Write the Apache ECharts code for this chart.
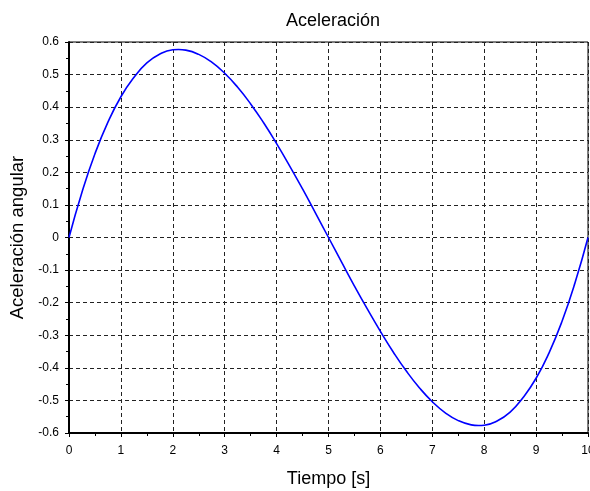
<!DOCTYPE html>
<html lang="es">
<head>
<meta charset="UTF-8">
<title>Aceleración</title>
<script src="https://cdn.jsdelivr.net/npm/echarts@6/dist/echarts.min.js"></script>
<style>
  html, body { margin: 0; padding: 0; background: #fff; }
  #main { width: 590px; height: 491px; }
</style>
</head>
<body>
<div id="main"></div>
<script>
// tiempo [s] y aceleración
const tiempo = [0, 0.25, 0.5, 0.75, 1, 1.25, 1.5, 1.75, 2, 2.11, 2.25, 2.5, 2.75, 3, 3.25, 3.5, 3.75, 4, 4.25, 4.5, 4.75, 5,
  5.25, 5.5, 5.75, 6, 6.25, 6.5, 6.75, 7, 7.25, 7.5, 7.75, 7.89, 8, 8.25, 8.5, 8.75, 9, 9.25, 9.5, 9.75, 10];
const aceleracion = [0, 0.139, 0.257, 0.354, 0.432, 0.491, 0.536, 0.563, 0.576, 0.577, 0.575, 0.562, 0.538, 0.504, 0.461, 0.41, 0.352, 0.288, 0.22, 0.149, 0.075, 0,
  -0.075, -0.149, -0.22, -0.288, -0.352, -0.41, -0.461, -0.504, -0.538, -0.562, -0.575, -0.577, -0.576, -0.563, -0.536, -0.491, -0.432, -0.354, -0.257, -0.139, 0];
const xTicks = [0, 1, 2, 3, 4, 5, 6, 7, 8, 9, 10];
const yTicks = [-0.6, -0.5, -0.4, -0.3, -0.2, -0.1, 0, 0.1, 0.2, 0.3, 0.4, 0.5, 0.6];

var chart = echarts.init(document.getElementById('main'));
var fuente = 'Liberation Sans, Arial, sans-serif';
var rejilla = { show: true, lineStyle: { color: '#222', type: [4, 3], width: 1 } };

var option = {
  animation: false,
  title: {
    text: 'Aceleración',
    left: 328, top: 7, textAlign: 'center',
    textStyle: { fontFamily: fuente, fontSize: 18, fontWeight: 'normal', color: '#000' }
  },
  grid: {
    left: 69, right: 2, top: 42, bottom: 58,
    outerBoundsMode: 'none', containLabel: false,
    show: true, borderColor: '#000', borderWidth: 1, backgroundColor: '#fff'
  },
  xAxis: {
    type: 'value',
    min: xTicks[0], max: xTicks[xTicks.length - 1], interval: 1,
    name: 'Tiempo [s]', nameLocation: 'middle', nameGap: 37,
    nameTextStyle: { fontFamily: fuente, fontSize: 18, color: '#000' },
    axisLine: { show: true, onZero: false, lineStyle: { color: '#000', width: 2 } },
    axisTick: { show: true, length: 4, lineStyle: { color: '#000' } },
    minorTick: { show: true, splitNumber: 2, length: 3, lineStyle: { color: '#000' } },
    axisLabel: { fontFamily: fuente, fontSize: 12, color: '#000', margin: 12 },
    splitLine: rejilla
  },
  yAxis: {
    type: 'value',
    min: yTicks[0], max: yTicks[yTicks.length - 1], interval: 0.1,
    name: 'Aceleración angular', nameLocation: 'middle', nameGap: 37,
    nameTextStyle: { fontFamily: fuente, fontSize: 18.5, color: '#000' },
    axisLine: { show: true, onZero: false, lineStyle: { color: '#000', width: 2 } },
    axisTick: { show: true, length: 4, lineStyle: { color: '#000' } },
    minorTick: { show: true, splitNumber: 2, length: 3, lineStyle: { color: '#000' } },
    axisLabel: {
      fontFamily: fuente, fontSize: 12, color: '#000', margin: 10,
      formatter: function (v) { return parseFloat(v.toFixed(1)).toString(); }
    },
    splitLine: rejilla
  },
  series: [{
    type: 'line',
    data: tiempo.map(function (t, i) { return [t, aceleracion[i]]; }),
    smooth: true,
    showSymbol: false,
    lineStyle: { color: '#0000ff', width: 1.6 }
  }]
};
chart.setOption(option);
</script>
</body>
</html>
